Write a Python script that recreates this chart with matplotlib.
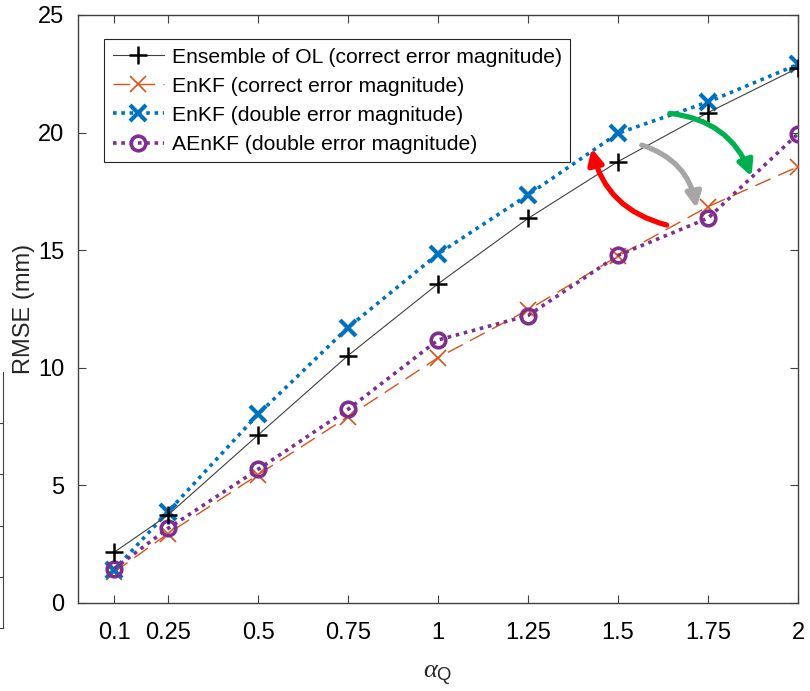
import numpy as np
import matplotlib.pyplot as plt

plt.rcParams['font.family'] = ['Liberation Sans', 'DejaVu Sans']
plt.rcParams['mathtext.fontset'] = 'custom'
plt.rcParams['mathtext.rm'] = 'Liberation Sans'
plt.rcParams['mathtext.it'] = 'Liberation Serif:italic'

# valori alpha_Q si RMSE
alpha_q = [0.1, 0.25, 0.5, 0.75, 1.0, 1.25, 1.5, 1.75, 2.0]
tick_labels = ['0.1', '0.25', '0.5', '0.75', '1', '1.25', '1.5', '1.75', '2']
ol_corect = [2.15, 3.74, 7.14, 10.52, 13.57, 16.35, 18.77, 20.85, 22.75]
enkf_corect = [1.3, 2.95, 5.45, 7.92, 10.43, 12.46, 14.75, 16.85, 18.55]
enkf_dublu = [1.4, 3.88, 8.02, 11.71, 14.84, 17.35, 19.97, 21.3, 22.9]
aenkf_dublu = [1.45, 3.17, 5.68, 8.23, 11.18, 12.22, 14.78, 16.36, 19.95]

fig = plt.figure(figsize=(8.1, 6.91), dpi=100)
ax = fig.add_axes([0.0963, 0.1274, 0.8889, 0.8509])

ax.plot(alpha_q, ol_corect, color='#404040', lw=0.8, marker='+', ms=13, mew=1.8,
        mec='black', label='Ensemble of OL (correct error magnitude)', zorder=5)
ax.plot(alpha_q, enkf_corect, color='#D95319', lw=1.0, ls=(0, (12, 6)), marker='x',
        ms=11, mew=1.2, label='EnKF (correct error magnitude)', zorder=3)
ax.plot(alpha_q, enkf_dublu, color='#0072BD', lw=2.6, ls=(0, (1, 1.3)), marker='x',
        ms=11, mew=3.0, label='EnKF (double error magnitude)', zorder=4)
ax.plot(alpha_q, aenkf_dublu, color='#7E2F8E', lw=2.6, ls=(0, (1, 1.3)), marker='o',
        ms=10.5, mew=2.6, mfc='none', label='AEnKF (double error magnitude)', zorder=4)

# sagetile colorate
sageti = [((1.635, 16.07), (1.427, 19.33), '#FF0000'),
          ((1.566, 19.47), (1.718, 16.78), '#A6A6A6'),
          ((1.644, 20.82), (1.871, 18.13), '#00B050')]
for start, stop, col in sageti:
    ax.annotate('', xy=stop, xytext=start,
                arrowprops=dict(arrowstyle='-|>,head_length=0.9,head_width=0.45',
                                color=col, lw=3.8, shrinkA=0, shrinkB=0,
                                connectionstyle='arc3,rad=-0.3'), zorder=6)

ax.set_xlim(0, 2)
ax.set_ylim(0, 25)
ax.set_xticks(alpha_q)
ax.set_xticklabels(tick_labels)
ax.set_yticks([0, 5, 10, 15, 20, 25])
ax.tick_params(direction='in', top=True, right=True, labelsize=17, length=6,
               width=0.8, color='#404040')
ax.tick_params(axis='x', pad=14)
ax.tick_params(axis='y', pad=10)
for sp in ax.spines.values():
    sp.set_color('#404040')
    sp.set_linewidth(1.0)
ax.set_xlabel(r'$\alpha_{\mathrm{Q}}$', fontsize=19, color='#262626', labelpad=14)
ax.set_ylabel('RMSE (mm)', fontsize=17, color='#262626', labelpad=2)

leg = ax.legend(loc='upper left', bbox_to_anchor=(0.022, 0.977), fontsize=15.2,
                fancybox=False, edgecolor='#262626', framealpha=1,
                handlelength=2.4, borderpad=0.4, labelspacing=0.48, handletextpad=0.4)
leg.get_frame().set_linewidth(0.8)

# fragment din figura vecina (marginea stanga)
fr = fig.add_axes([0.0, 0.091, 0.004, 0.371])
fr.set_xlim(0, 1)
fr.set_ylim(0, 5)
fr.set_xticks([])
fr.set_yticks([1, 2, 3, 4])
fr.yaxis.tick_right()
fr.tick_params(axis='y', direction='in', length=4, labelright=False, color='#404040')
for k in ['left', 'top']:
    fr.spines[k].set_visible(False)
fr.spines['right'].set_color('#404040')
fr.spines['bottom'].set_color('#404040')
fr.patch.set_alpha(0)

fig.savefig('out.png', dpi=100)
